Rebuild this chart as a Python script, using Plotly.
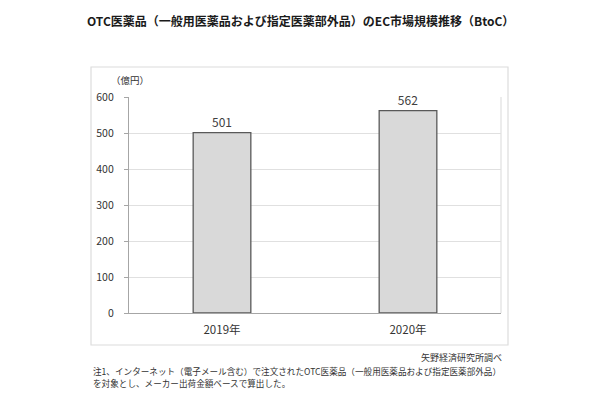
import plotly.graph_objects as go

categories = ["2019年", "2020年"]
values = [501, 562]
y_ticks = [0, 100, 200, 300, 400, 500, 600]

title_text = "OTC医薬品（一般用医薬品および指定医薬部外品）のEC市場規模推移（BtoC）"
unit_text = "（億円）"
source_text = "矢野経済研究所調べ"
note_line1 = "注1、インターネット（電子メール含む）で注文されたOTC医薬品（一般用医薬品および指定医薬部外品）"
note_line2 = "を対象とし、メーカー出荷金額ベースで算出した。"

FONT = "Noto Sans CJK JP"

fig = go.Figure()
fig.add_trace(go.Bar(
    x=categories, y=values,
    marker=dict(color="#d9d9d9", line=dict(color="#595959", width=1.3)),
    text=[str(v) for v in values], textposition="outside",
    textfont=dict(size=12, color="#404040", family=FONT),
    cliponaxis=False,
))

W, H = 600, 399
ml, mr, mt, mb = 129, 99, 97, 86
PW, PH = W - ml - mr, H - mt - mb


def px(x):
    return (x - ml) / PW


def py(y):
    return ((H - mb) - y) / PH


fig.update_layout(
    width=W, height=H,
    margin=dict(l=ml, r=mr, t=mt, b=mb),
    paper_bgcolor="white", plot_bgcolor="white",
    bargap=0.69,
    showlegend=False,
    font=dict(family=FONT, color="#333333"),
    xaxis=dict(
        showline=True, linecolor="#a6a6a6", linewidth=1.3,
        ticks="", showgrid=False,
        tickfont=dict(size=11.5, color="#333333", family=FONT),
        ticklabelstandoff=6,
    ),
    yaxis=dict(
        range=[0, 600], tickvals=y_ticks,
        showline=True, linecolor="#a6a6a6", linewidth=1.3,
        ticks="outside", ticklen=4, tickcolor="#a6a6a6",
        showgrid=True, gridcolor="#e0e0e0", gridwidth=1,
        zeroline=False,
        tickfont=dict(size=10.5, color="#333333", family=FONT),
        ticklabelstandoff=8,
    ),
    shapes=[
        dict(type="rect", xref="paper", yref="paper",
             x0=px(91), x1=px(508), y0=py(345), y1=py(67),
             line=dict(color="#dcdcdc", width=1.2), layer="below"),
        dict(type="line", xref="paper", yref="paper", x0=1, x1=1, y0=0, y1=1,
             line=dict(color="#e0e0e0", width=1.2)),
    ],
    annotations=[
        dict(text="<b>" + title_text + "</b>", xref="paper", yref="paper",
             x=px(300), y=py(20), xanchor="center", yanchor="middle", showarrow=False,
             font=dict(size=12, color="#1a1a1a", family=FONT)),
        dict(text=unit_text, xref="paper", yref="paper",
             x=px(130), y=py(80), xanchor="center", yanchor="middle", showarrow=False,
             font=dict(size=9.5, color="#333333", family=FONT)),
        dict(text=source_text, xref="paper", yref="paper",
             x=px(504), y=py(357), xanchor="right", yanchor="middle", showarrow=False,
             font=dict(size=9, color="#333333", family=FONT)),
        dict(text=note_line1, xref="paper", yref="paper",
             x=px(91), y=py(371), xanchor="left", yanchor="middle", showarrow=False,
             font=dict(size=8.6, color="#333333", family=FONT)),
        dict(text=note_line2, xref="paper", yref="paper",
             x=px(91), y=py(382.5), xanchor="left", yanchor="middle", showarrow=False,
             font=dict(size=8.6, color="#333333", family=FONT)),
    ],
)

fig.write_html("out.html", config={"displayModeBar": False},
               post_script="document.body.style.margin='0px';document.body.style.overflow='hidden';")
